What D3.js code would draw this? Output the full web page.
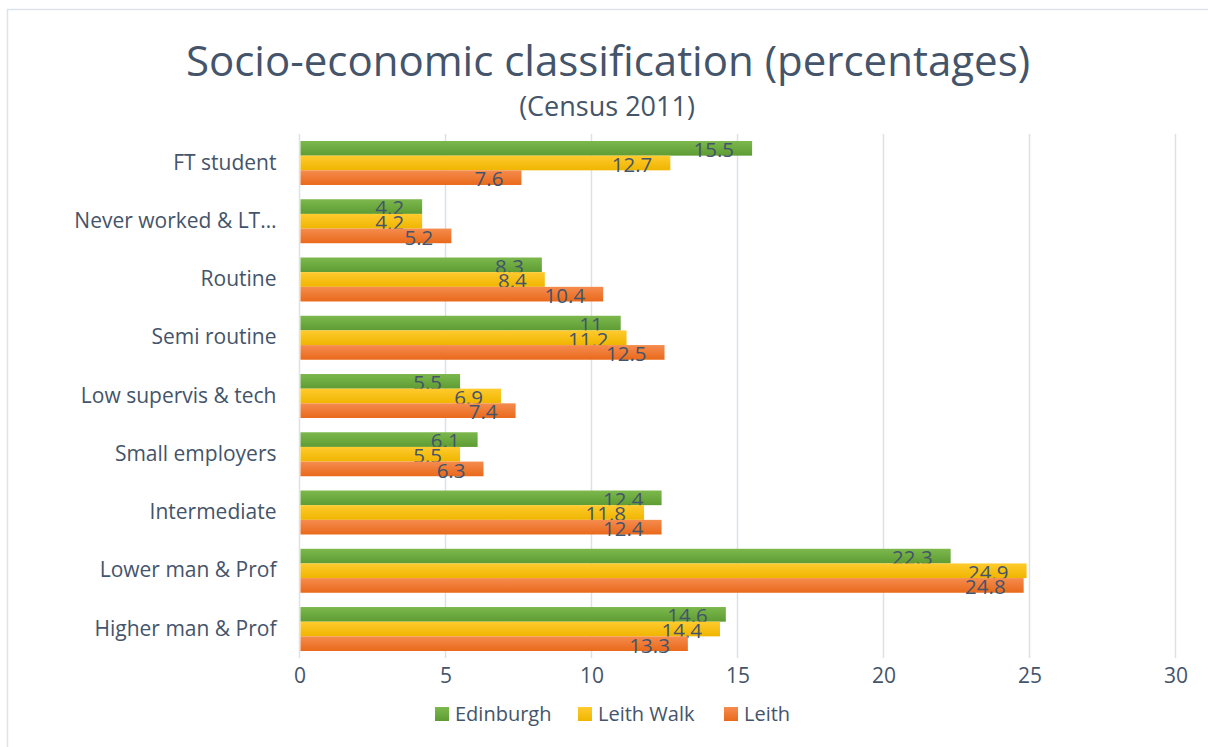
<!DOCTYPE html>
<html>
<head>
<meta charset="utf-8">
<script src="https://cdn.jsdelivr.net/npm/d3@7"></script>
<style>
  body { margin: 0; background: #fff; }
  svg text { font-family: "Open Sans", Lato, sans-serif; fill: #44546a; }
</style>
</head>
<body>
<div id="chart"></div>
<script>
const categories = ['FT student', 'Never worked & LT\u2026', 'Routine', 'Semi routine',
    'Low supervis & tech', 'Small employers', 'Intermediate', 'Lower man & Prof', 'Higher man & Prof'];
const seriesNames = ['Edinburgh', 'Leith Walk', 'Leith'];
const edinburgh = [15.5, 4.2, 8.3, 11, 5.5, 6.1, 12.4, 22.3, 14.6];
const leithWalk = [12.7, 4.2, 8.4, 11.2, 6.9, 5.5, 11.8, 24.9, 14.4];
const leith = [7.6, 5.2, 10.4, 12.5, 7.4, 6.3, 12.4, 24.8, 13.3];
const xTicks = [0, 5, 10, 15, 20, 25, 30];

const colors = [
    ['#7cb84c', '#5e9c34'],
    ['#ffcb2e', '#efb500'],
    ['#f58c4e', '#e9691b']
];

const width = 1208, height = 747;
const margin = { top: 134, right: 32, bottom: 90, left: 299.5 };
const fontFam = '"Open Sans", Lato, sans-serif';

const svg = d3.select('#chart').append('svg')
    .attr('width', width)
    .attr('height', height);

// frame
svg.append('rect')
    .attr('x', 7.5).attr('y', 9.5)
    .attr('width', width).attr('height', height)
    .attr('fill', 'none')
    .attr('stroke', '#dde3ea')
    .attr('stroke-width', 1.5);

const defs = svg.append('defs');
colors.forEach((c, i) => {
    const grad = defs.append('linearGradient')
        .attr('id', 'grad' + i)
        .attr('x1', 0).attr('y1', 0).attr('x2', 0).attr('y2', 1);
    grad.append('stop').attr('offset', '0%').attr('stop-color', c[0]);
    grad.append('stop').attr('offset', '100%').attr('stop-color', c[1]);
});

const x = d3.scaleLinear()
    .domain([0, 30])
    .range([margin.left, 1175.5]);

const y = d3.scaleBand()
    .domain(categories)
    .range([margin.top, 658])
    .paddingInner(0.245)
    .paddingOuter(0.12);

const ySub = d3.scaleBand()
    .domain(seriesNames)
    .range([0, y.bandwidth()]);

// title
svg.append('text')
    .attr('x', 608).attr('y', 76)
    .attr('text-anchor', 'middle')
    .style('font-size', '42px')
    .text('Socio-economic classification (percentages)');

svg.append('text')
    .attr('x', 607).attr('y', 116)
    .attr('text-anchor', 'middle')
    .style('font-size', '27px')
    .text('(Census 2011)');

// gridlines
svg.append('g')
    .selectAll('line')
    .data(xTicks)
    .join('line')
    .attr('x1', d => x(d)).attr('x2', d => x(d))
    .attr('y1', margin.top).attr('y2', 658)
    .attr('stroke', '#dde1e6')
    .attr('stroke-width', 1.5);

// x axis labels
const xAxis = svg.append('g')
    .attr('transform', `translate(0, 658)`)
    .call(d3.axisBottom(x).tickValues(xTicks).tickSize(0).tickPadding(10));
xAxis.select('.domain').remove();
xAxis.selectAll('text')
    .style('font-size', '21px')
    .style('font-family', fontFam)
    .attr('fill', '#44546a');

// y axis labels
const yAxis = svg.append('g')
    .attr('transform', `translate(${margin.left}, 0)`)
    .call(d3.axisLeft(y).tickSize(0).tickPadding(23));
yAxis.select('.domain').remove();
yAxis.selectAll('text')
    .style('font-size', '21px')
    .style('font-family', fontFam)
    .attr('fill', '#44546a');

const allSeries = [edinburgh, leithWalk, leith];

allSeries.forEach((values, si) => {
    const g = svg.append('g');
    g.selectAll('rect')
        .data(values)
        .join('rect')
        .attr('x', x(0) + 1)
        .attr('y', (d, i) => y(categories[i]) + ySub(seriesNames[si]))
        .attr('width', d => x(d) - x(0) - 1)
        .attr('height', ySub.bandwidth())
        .attr('fill', `url(#grad${si})`);

    g.selectAll('text')
        .data(values)
        .join('text')
        .attr('x', d => x(d) - 18)
        .attr('y', (d, i) => y(categories[i]) + ySub(seriesNames[si]) + ySub.bandwidth() + 1.5)
        .attr('text-anchor', 'end')
        .style('font-size', '20.5px')
        .text(d => d);
});

// legend
const legendItems = [
    { name: 'Edinburgh', x: 435 },
    { name: 'Leith Walk', x: 578 },
    { name: 'Leith', x: 724 }
];
const legend = svg.append('g');
legendItems.forEach((item, i) => {
    legend.append('rect')
        .attr('x', item.x).attr('y', 707)
        .attr('width', 14).attr('height', 14)
        .attr('fill', `url(#grad${i})`);
    legend.append('text')
        .attr('x', item.x + 20).attr('y', 721)
        .style('font-size', '20px')
        .text(item.name);
});
</script>
</body>
</html>
